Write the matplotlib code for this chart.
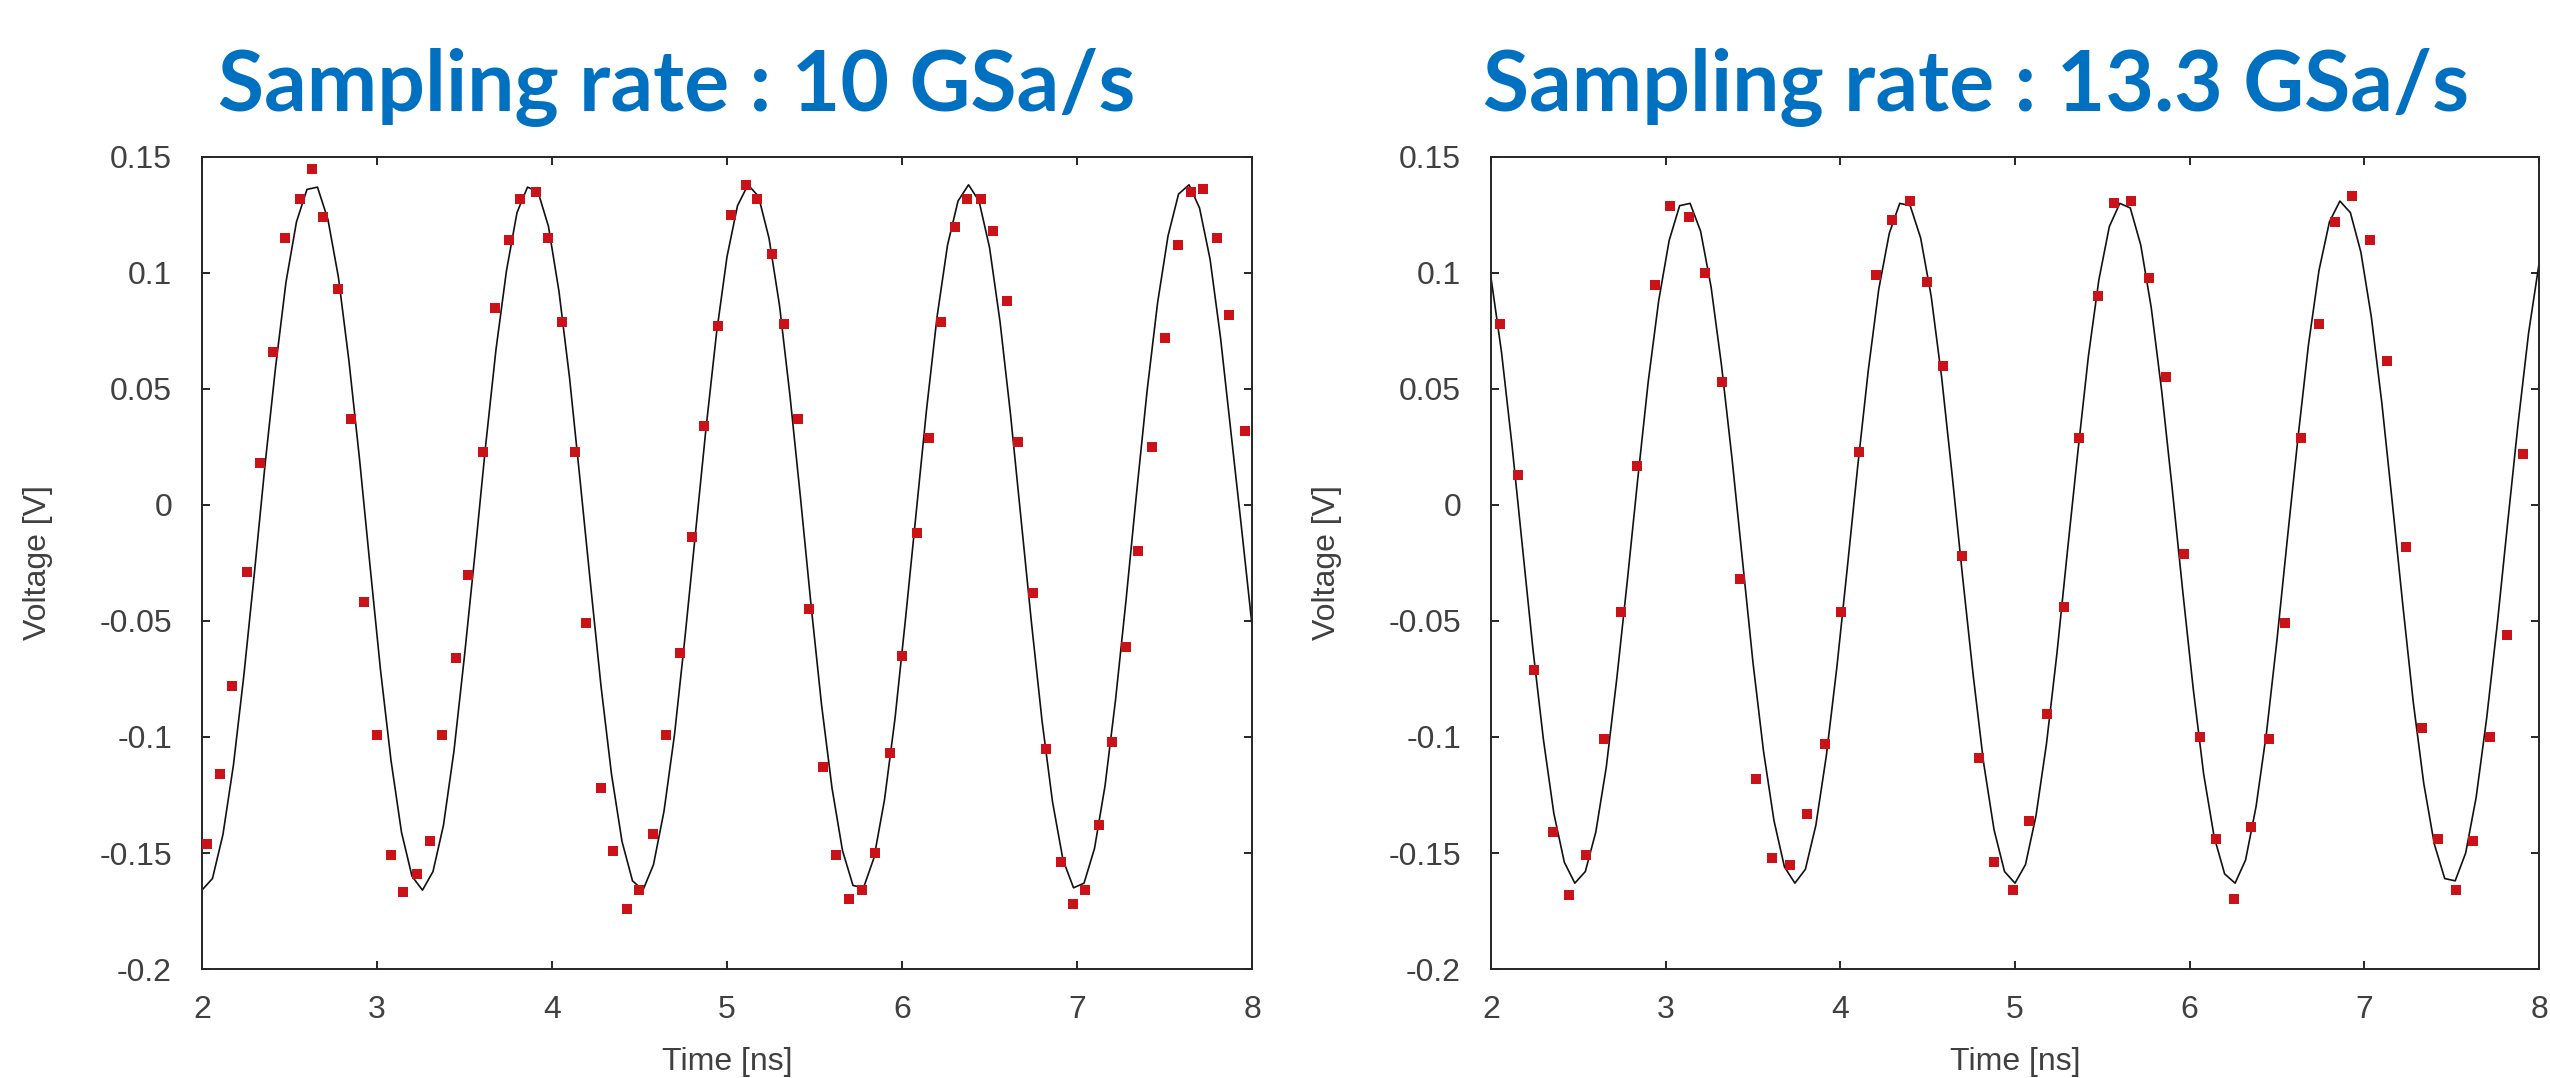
import numpy as np
import matplotlib.pyplot as plt

# Values: red squares are the samples, black line is the fitted waveform
titles = ['Sampling rate : 10 GSa/s', 'Sampling rate : 13.3 GSa/s']

left_t = [2.027, 2.103, 2.173, 2.255, 2.331, 2.408, 2.476, 2.560, 2.627, 2.693,
          2.779, 2.851, 2.928, 2.998, 3.080, 3.150, 3.227, 3.303, 3.370, 3.451,
          3.522, 3.604, 3.677, 3.753, 3.820, 3.906, 3.978, 4.060, 4.130, 4.197,
          4.280, 4.348, 4.430, 4.498, 4.576, 4.651, 4.730, 4.800, 4.869, 4.951,
          5.025, 5.107, 5.174, 5.256, 5.328, 5.404, 5.471, 5.548, 5.625, 5.697,
          5.774, 5.848, 5.930, 6.002, 6.083, 6.153, 6.220, 6.300, 6.370, 6.452,
          6.519, 6.600, 6.665, 6.750, 6.822, 6.906, 6.975, 7.045, 7.124, 7.198,
          7.278, 7.347, 7.429, 7.500, 7.577, 7.649, 7.719, 7.800, 7.870, 7.957]
left_v = [-0.146, -0.116, -0.078, -0.029, 0.018, 0.066, 0.115, 0.132, 0.145, 0.124,
          0.093, 0.037, -0.042, -0.099, -0.151, -0.167, -0.159, -0.145, -0.099, -0.066,
          -0.030, 0.023, 0.085, 0.114, 0.132, 0.135, 0.115, 0.079, 0.023, -0.051,
          -0.122, -0.149, -0.174, -0.166, -0.142, -0.099, -0.064, -0.014, 0.034, 0.077,
          0.125, 0.138, 0.132, 0.108, 0.078, 0.037, -0.045, -0.113, -0.151, -0.170,
          -0.166, -0.150, -0.107, -0.065, -0.012, 0.029, 0.079, 0.120, 0.132, 0.132,
          0.118, 0.088, 0.027, -0.038, -0.105, -0.154, -0.172, -0.166, -0.138, -0.102,
          -0.061, -0.020, 0.025, 0.072, 0.112, 0.135, 0.136, 0.115, 0.082, 0.032]

right_t = [2.052, 2.156, 2.247, 2.357, 2.446, 2.544, 2.649, 2.742, 2.834, 2.937,
           3.024, 3.134, 3.228, 3.321, 3.427, 3.520, 3.609, 3.714, 3.807, 3.912,
           4.006, 4.104, 4.205, 4.298, 4.400, 4.497, 4.590, 4.697, 4.792, 4.882,
           4.987, 5.081, 5.181, 5.283, 5.368, 5.475, 5.565, 5.662, 5.765, 5.862,
           5.966, 6.060, 6.149, 6.256, 6.351, 6.453, 6.543, 6.638, 6.742, 6.832,
           6.932, 7.034, 7.130, 7.236, 7.331, 7.421, 7.525, 7.620, 7.722, 7.817,
           7.908]
right_v = [0.078, 0.013, -0.071, -0.141, -0.168, -0.151, -0.101, -0.046, 0.017, 0.095,
           0.129, 0.124, 0.100, 0.053, -0.032, -0.118, -0.152, -0.155, -0.133, -0.103,
           -0.046, 0.023, 0.099, 0.123, 0.131, 0.096, 0.060, -0.022, -0.109, -0.154,
           -0.166, -0.136, -0.090, -0.044, 0.029, 0.090, 0.130, 0.131, 0.098, 0.055,
           -0.021, -0.100, -0.144, -0.170, -0.139, -0.101, -0.051, 0.029, 0.078, 0.122,
           0.133, 0.114, 0.062, -0.018, -0.096, -0.144, -0.166, -0.145, -0.100, -0.056,
           0.022]

# fitted waveform, vertices every 0.06 ns from 2 to 8 ns
line_t = np.linspace(2.0, 8.0, 101)
left_line = [-0.166, -0.161, -0.142, -0.112, -0.073, -0.029, 0.017, 0.059, 0.096, 0.122,
             0.136, 0.137, 0.123, 0.098, 0.062, 0.020, -0.026, -0.071, -0.110, -0.141,
             -0.160, -0.166, -0.158, -0.138, -0.106, -0.065, -0.021, 0.025, 0.067, 0.101,
             0.126, 0.137, 0.135, 0.120, 0.092, 0.055, 0.011, -0.034, -0.078, -0.116,
             -0.145, -0.162, -0.166, -0.155, -0.132, -0.099, -0.057, -0.012, 0.033, 0.074,
             0.107, 0.129, 0.138, 0.133, 0.115, 0.086, 0.047, 0.003, -0.043, -0.086,
             -0.122, -0.149, -0.164, -0.165, -0.152, -0.127, -0.092, -0.049, -0.004, 0.041,
             0.081, 0.112, 0.131, 0.138, 0.131, 0.111, 0.079, 0.039, -0.006, -0.051,
             -0.093, -0.128, -0.153, -0.165, -0.163, -0.148, -0.121, -0.084, -0.041, 0.005,
             0.049, 0.087, 0.116, 0.134, 0.138, 0.128, 0.106, 0.072, 0.031, -0.010,
             -0.052]
right_line = [0.098, 0.066, 0.026, -0.018, -0.062, -0.101, -0.133, -0.154, -0.163, -0.158,
              -0.141, -0.113, -0.075, -0.033, 0.011, 0.053, 0.088, 0.114, 0.129, 0.130,
              0.118, 0.094, 0.060, 0.020, -0.024, -0.068, -0.106, -0.136, -0.156, -0.163,
              -0.157, -0.138, -0.108, -0.070, -0.027, 0.017, 0.058, 0.093, 0.117, 0.130,
              0.129, 0.115, 0.090, 0.055, 0.013, -0.031, -0.073, -0.111, -0.140, -0.158,
              -0.163, -0.155, -0.134, -0.103, -0.064, -0.020, 0.023, 0.064, 0.097, 0.120,
              0.130, 0.128, 0.112, 0.085, 0.049, 0.007, -0.037, -0.079, -0.116, -0.143,
              -0.159, -0.163, -0.153, -0.130, -0.098, -0.058, -0.014, 0.029, 0.069, 0.101,
              0.122, 0.131, 0.126, 0.109, 0.081, 0.044, 0.001, -0.043, -0.085, -0.120,
              -0.146, -0.161, -0.162, -0.150, -0.126, -0.092, -0.052, -0.008, 0.035, 0.074,
              0.104]

x_ticks = [2, 3, 4, 5, 6, 7, 8]
x_tick_labels = ['2', '3', '4', '5', '6', '7', '8']
y_ticks = [-0.2, -0.15, -0.1, -0.05, 0, 0.05, 0.1, 0.15]
y_tick_labels = ['-0.2', '-0.15', '-0.1', '-0.05', '0', '0.05', '0.1', '0.15']

plt.rcParams['font.family'] = ['Liberation Sans', 'DejaVu Sans']

fig = plt.figure(figsize=(25.5, 10.78), dpi=100)
ax_left = fig.add_axes([0.0792, 0.1011, 0.4118, 0.7533])
ax_right = fig.add_axes([0.5847, 0.1011, 0.4110, 0.7533])

text_grey = '#404040'
axis_grey = '#262626'

panels = [(ax_left, left_t, left_v, left_line), (ax_right, right_t, right_v, right_line)]
for ax, st, sv, lv in panels:
    ax.plot(line_t, lv, color='#111111', lw=1.2, zorder=2)
    ax.plot(st, sv, 's', color='#cc1219', ms=7.5, mew=0, zorder=3)
    ax.set_xlim(2, 8)
    ax.set_ylim(-0.2, 0.15)
    ax.set_xticks(x_ticks)
    ax.set_xticklabels(x_tick_labels)
    ax.set_yticks(y_ticks)
    ax.set_yticklabels(y_tick_labels)
    ax.tick_params(direction='in', length=6, width=1.4, color=axis_grey,
                   labelsize=23, labelcolor=text_grey, top=True, right=True)
    ax.tick_params(axis='x', pad=18.5)
    ax.tick_params(axis='y', pad=21.5)
    for s in ax.spines.values():
        s.set_linewidth(1.4)
        s.set_color(axis_grey)
    ax.set_xlabel('Time [ns]', fontsize=23, color=text_grey)
    ax.set_ylabel('Voltage [V]', fontsize=23, color=text_grey)
    ax.xaxis.set_label_coords(0.5, -0.096)
    ax.yaxis.set_label_coords(-0.142, 0.5)

# big blue headings above each panel
title_x = [0.2655, 0.775]
for x, txt in zip(title_x, titles):
    fig.text(x, 0.898, txt, ha='center', va='baseline', fontsize=60.5,
             fontweight='bold', family=['Lato', 'DejaVu Sans'], color='#0070c0')

fig.savefig('out.png', dpi=100)
